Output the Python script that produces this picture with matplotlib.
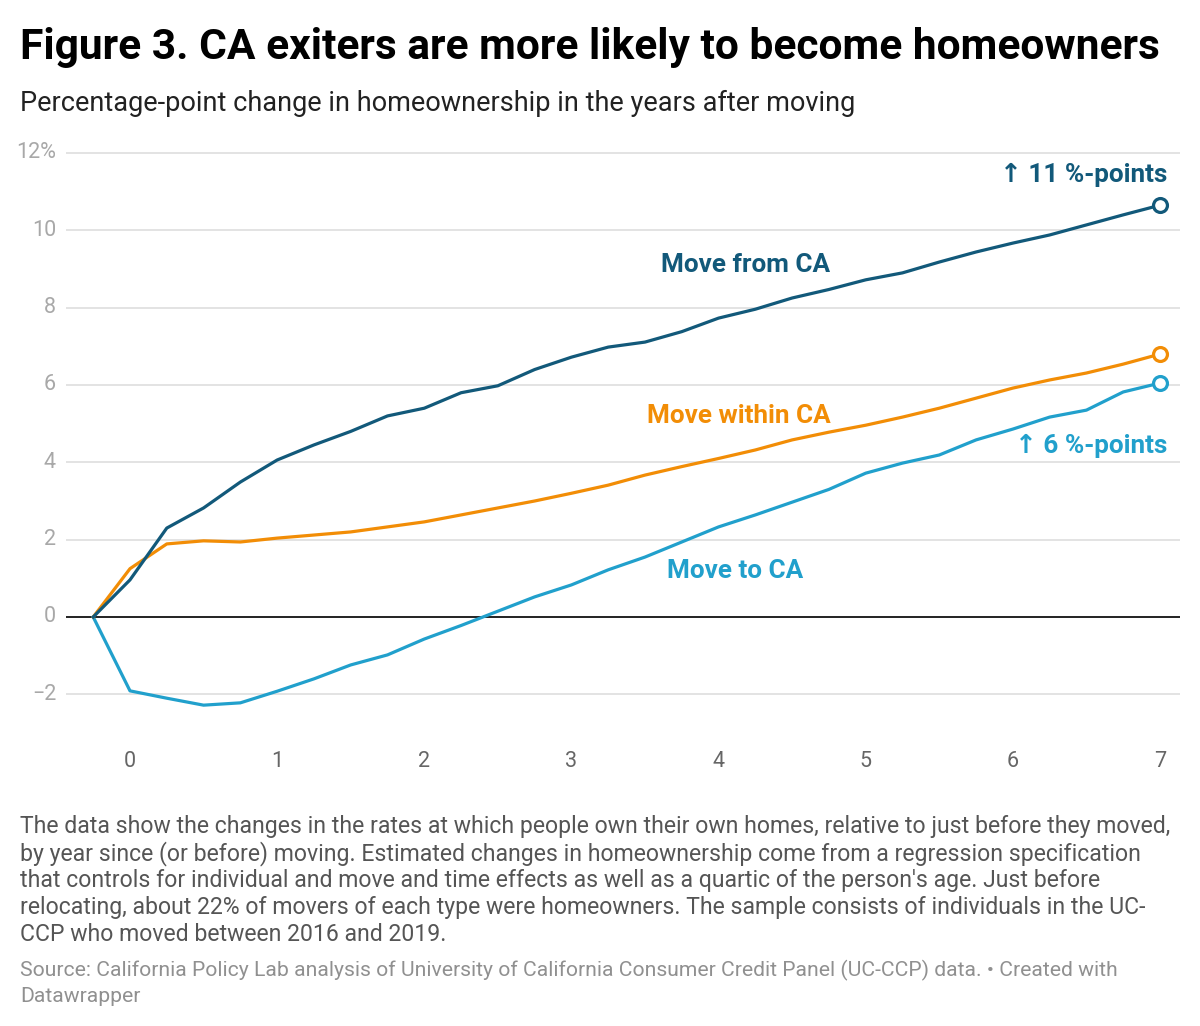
import matplotlib
matplotlib.use("Agg")
import matplotlib.pyplot as plt

# ---- data ----
years = [-0.25, 0, 0.25, 0.5, 0.75, 1, 1.25, 1.5, 1.75, 2, 2.25, 2.5, 2.75, 3,
         3.25, 3.5, 3.75, 4, 4.25, 4.5, 4.75, 5, 5.25, 5.5, 5.75, 6, 6.25, 6.5,
         6.75, 7]
move_from_ca = [0, 0.96, 2.3, 2.82, 3.49, 4.06, 4.45, 4.8, 5.2, 5.4, 5.8, 5.98,
                6.4, 6.72, 6.98, 7.11, 7.38, 7.73, 7.96, 8.25, 8.47, 8.72, 8.9,
                9.18, 9.44, 9.67, 9.88, 10.14, 10.4, 10.65]
move_within_ca = [0, 1.25, 1.89, 1.97, 1.94, 2.04, 2.12, 2.2, 2.33, 2.46, 2.64,
                  2.82, 3.0, 3.2, 3.41, 3.67, 3.89, 4.1, 4.32, 4.58, 4.78, 4.96,
                  5.17, 5.4, 5.66, 5.92, 6.13, 6.31, 6.54, 6.8]
move_to_ca = [0, -1.91, -2.1, -2.28, -2.22, -1.92, -1.6, -1.24, -0.98, -0.57,
              -0.22, 0.15, 0.52, 0.83, 1.22, 1.55, 1.94, 2.33, 2.64, 2.97, 3.3,
              3.72, 3.98, 4.19, 4.58, 4.86, 5.17, 5.35, 5.82, 6.05]
y_ticks = [-2, 0, 2, 4, 6, 8, 10, 12]
y_tick_labels = ["\u22122", "0", "2", "4", "6", "8", "10", "12%"]
x_ticks = [0, 1, 2, 3, 4, 5, 6, 7]

C_FROM = "#12597a"
C_WITHIN = "#f28d06"
C_TO = "#21a0cc"

plt.rcParams['font.family'] = ['Roboto', 'DejaVu Sans']

W, H = 1200, 1026
fig = plt.figure(figsize=(W / 100, H / 100), dpi=100)
fig.patch.set_facecolor("white")

# axes geometry in pixels
ax_left, ax_right = 66, 1180
x0_px, x7_px = 130, 1160
px_per_x = (x7_px - x0_px) / 7.0
y0_px = 617
px_per_y = (617 - 153) / 12.0
ymin, ymax = -3.0, 12.3
ax_top = y0_px - ymax * px_per_y
ax_bot = y0_px - ymin * px_per_y
xmin = (ax_left - x0_px) / px_per_x
xmax = (ax_right - x0_px) / px_per_x

ax = fig.add_axes([ax_left / W, 1 - ax_bot / H, (ax_right - ax_left) / W,
                   (ax_bot - ax_top) / H])
ax.set_xlim(xmin, xmax)
ax.set_ylim(ymin, ymax)
for s in ax.spines.values():
    s.set_visible(False)
ax.set_yticks([])
ax.set_xticks(x_ticks)
ax.set_xticklabels([str(t) for t in x_ticks], fontsize=15.5, color="#666666")
ax.tick_params(axis="x", length=0, pad=13)

for yt, lab in zip(y_ticks, y_tick_labels):
    if yt == 0:
        ax.axhline(yt, color="#111111", lw=1.3, zorder=2)
    else:
        ax.axhline(yt, color="#e3e3e3", lw=1.4, zorder=1)
    fig.text((ax_left - 10) / W, 1 - (y0_px - yt * px_per_y) / H, lab,
             fontsize=15.5, color="#a8a8a8", ha="right", va="center")

lw = 2.3
ax.plot(years, move_to_ca, color=C_TO, lw=lw, zorder=3, solid_joinstyle="round")
ax.plot(years, move_within_ca, color=C_WITHIN, lw=lw, zorder=4, solid_joinstyle="round")
ax.plot(years, move_from_ca, color=C_FROM, lw=lw, zorder=5, solid_joinstyle="round")

for ser, c in [(move_to_ca, C_TO), (move_within_ca, C_WITHIN), (move_from_ca, C_FROM)]:
    ax.plot([years[-1]], [ser[-1]], marker="o", ms=10, mfc="white", mec=c,
            mew=2.3, zorder=6, clip_on=False)

# line labels
lab_fs = 18.8
ax.text(4.757, 9.1, "Move from CA", color=C_FROM, fontsize=lab_fs, fontweight="bold",
        ha="right", va="center")
ax.text(4.76, 5.2, "Move within CA", color=C_WITHIN, fontsize=lab_fs, fontweight="bold",
        ha="right", va="center")
ax.text(4.11, 1.19, "Move to CA", color=C_TO, fontsize=lab_fs, fontweight="bold",
        ha="center", va="center")
ax.text(7.05, 11.43, "\u2191 11 %-points", color=C_FROM, fontsize=lab_fs,
        fontweight="bold", ha="right", va="center")
ax.text(7.05, 4.42, "\u2191 6 %-points", color=C_TO, fontsize=lab_fs,
        fontweight="bold", ha="right", va="center")

# title & subtitle
fig.text(20 / W, 1 - 59 / H, "Figure 3. CA exiters are more likely to become homeowners",
         fontsize=30.6, fontweight="bold", color="#000000", ha="left", va="baseline")
fig.text(20 / W, 1 - 111 / H, "Percentage-point change in homeownership in the years after moving",
         fontsize=19.5, color="#222222", ha="left", va="baseline")

notes = [
    "The data show the changes in the rates at which people own their own homes, relative to just before they moved,",
    "by year since (or before) moving. Estimated changes in homeownership come from a regression specification",
    "that controls for individual and move and time effects as well as a quartic of the person's age. Just before",
    "relocating, about 22% of movers of each type were homeowners. The sample consists of individuals in the UC-",
    "CCP who moved between 2016 and 2019.",
]
for i, line in enumerate(notes):
    fig.text(20 / W, 1 - (833 + 27 * i) / H, line, fontsize=16.6, color="#555555",
             ha="left", va="baseline")

source = [
    "Source: California Policy Lab analysis of University of California Consumer Credit Panel (UC-CCP) data. \u2022 Created with",
    "Datawrapper",
]
for i, line in enumerate(source):
    fig.text(20 / W, 1 - (976 + 26 * i) / H, line, fontsize=15.2, color="#909090",
             ha="left", va="baseline")

fig.savefig("out.png", dpi=100, facecolor="white")
